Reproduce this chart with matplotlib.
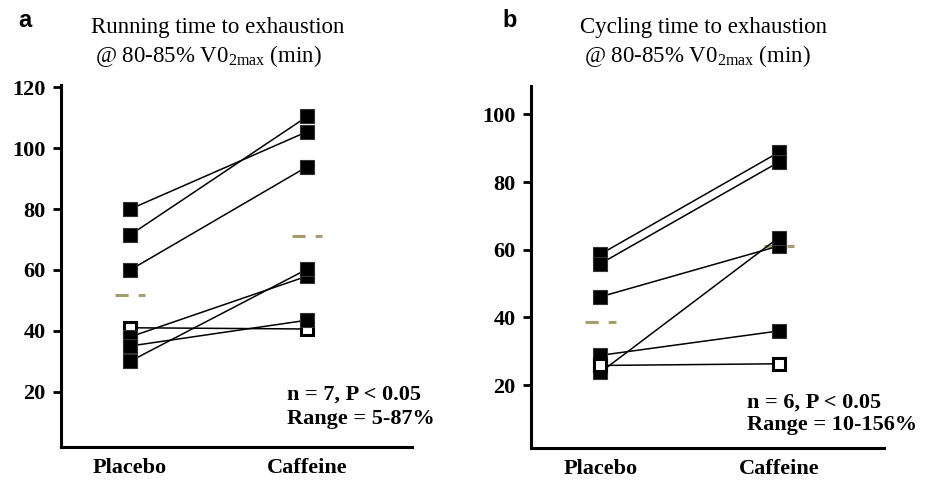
#!/usr/bin/env python

"""Placebo vs caffeine time to exhaustion, running (a) and cycling (b)."""

import matplotlib
matplotlib.use("Agg")
import matplotlib.pyplot as plt

plt.rcParams['font.family'] = ['Liberation Serif', 'DejaVu Serif']
plt.rcParams['mathtext.default'] = 'regular'

conditions = ["Placebo", "Caffeine"]

# Panel a: running (min)
run_placebo = [80, 71.5, 60, 38, 35, 30]
run_caffeine = [105.5, 110.5, 94, 58, 43.5, 60.3]
run_open = [41, 40.6]
run_means = [51.9, 71.2]

# Panel b: cycling (min)
cyc_placebo = [58.7, 55.9, 46.1, 28.8, 23.8]
cyc_caffeine = [88.8, 85.9, 61.1, 36.0, 63.6]
cyc_open = [25.8, 26.3]
cyc_means = [38.7, 61.1]

mean_color = '#a39d6f'
tick_font = dict(family='Liberation Serif', weight='bold', size=16)


def draw_panel(fig, rect, placebo, caffeine, open_pair, means, ylim, yticks,
               stats, stats_pos, open_on_top):
    axes = fig.add_axes(rect)
    x = [1, 2]

    for p, c in zip(placebo, caffeine):
        axes.plot(x, [p, c], color='black', lw=1.1, zorder=2)
    axes.plot(x, open_pair, color='black', lw=1.1, zorder=2)

    for p, c in zip(placebo, caffeine):
        axes.plot(x, [p, c], ls='none', marker='s', ms=10.3, mfc='black',
                  mec='#333333', mew=0.8, zorder=4)
    axes.plot(x, open_pair, ls='none', marker='s', ms=8.8, mfc='white',
              mec='black', mew=2.2, zorder=5 if open_on_top else 3)

    for xi, m in zip(x, means):
        axes.plot([xi - 0.085, xi + 0.085], [m, m], color=mean_color, lw=2.2,
                  ls=(0, (4.3, 3.3)), dash_capstyle='butt', zorder=1)

    axes.set_xlim(0.61, 2.59)
    axes.set_ylim(*ylim)
    axes.set_yticks(yticks)
    axes.set_yticklabels([str(t) for t in yticks], fontdict=tick_font)
    axes.set_xticks(x)
    axes.set_xticklabels(conditions, fontdict=tick_font)
    axes.tick_params(axis='y', length=6, width=2, pad=5)
    axes.tick_params(axis='x', length=0, pad=8)
    for side in ('top', 'right'):
        axes.spines[side].set_visible(False)
    for side in ('left', 'bottom'):
        axes.spines[side].set_linewidth(2.2)

    sx, sy1, sy2 = stats_pos
    for line, sy in zip(stats, (sy1, sy2)):
        axes.text(sx, sy, line, transform=axes.transAxes, fontsize=16,
                  fontweight='bold', va='baseline', ha='left')
    return axes


fig = plt.figure(figsize=(9.31, 4.82), dpi=100)

draw_panel(fig, [0.0655, 0.0726, 0.377, 0.751], run_placebo, run_caffeine,
           run_open, run_means, (1.8, 120.8), [20, 40, 60, 80, 100, 120],
           ["n = 7, P < 0.05", "Range = 5-87%"], (0.644, 0.130, 0.0635),
           False)
draw_panel(fig, [0.5703, 0.0705, 0.3792, 0.7511], cyc_placebo, cyc_caffeine,
           cyc_open, cyc_means, (1.4, 108.4), [20, 40, 60, 80, 100],
           ["n = 6, P < 0.05", "Range = 10-156%"], (0.612, 0.113, 0.050),
           True)

fig.text(18 / 931, 1 - 27 / 482, 'a', family='Liberation Sans',
         weight='bold', fontsize=17)
fig.text(502 / 931, 1 - 27 / 482, 'b', family='Liberation Sans',
         weight='bold', fontsize=17)

title_size = 16.5
fig.text(218 / 931, 1 - 33 / 482, 'Running time to exhaustion',
         ha='center', fontsize=title_size)
fig.text(208 / 931, 1 - 62 / 482, r'@ 80-85% V0$_{2max}$ (min)',
         ha='center', fontsize=title_size)
fig.text(703 / 931, 1 - 33 / 482, 'Cycling time to exhaustion',
         ha='center', fontsize=title_size)
fig.text(697 / 931, 1 - 62 / 482, r'@ 80-85% V0$_{2max}$ (min)',
         ha='center', fontsize=title_size)

fig.savefig('out.png', dpi=100)
